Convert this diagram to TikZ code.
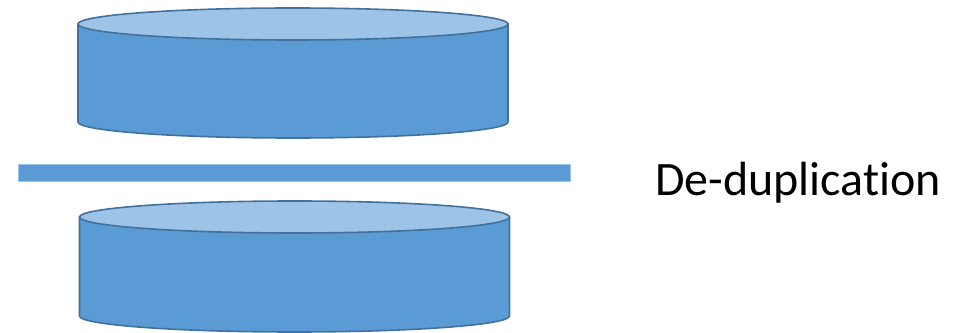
\documentclass[tikz,border=0pt]{standalone}
\usepackage{fontspec}
\setmainfont{Carlito}[RawFeature=-liga]
\usepackage{xcolor}
\usetikzlibrary{positioning}

\definecolor{diskside}{HTML}{5B9BD5}
\definecolor{disktop}{HTML}{9DC3E6}
\definecolor{diskedge}{HTML}{41719C}

% one flat disk: #1 centre x, #2 lid y, #3 floor y
\newcommand{\drawdisk}[3]{%
  \draw[diskbody] (#1-215,#2) -- (#1-215,#3)
    arc[start angle=180, end angle=360, x radius=215, y radius=16]
    -- (#1+215,#2) -- cycle;
  \draw[disklid] (#1,#2) ellipse[x radius=215, y radius=16];
}

\begin{document}
\begin{tikzpicture}[x=1pt, y=1pt,
  diskbody/.style={fill=diskside, draw=diskedge, line width=1.6pt, line join=round},
  disklid/.style={fill=disktop, draw=diskedge, line width=1.6pt},
  barbox/.style={rectangle, fill=diskside, draw=disktop, line width=0.8pt, minimum width=552pt, minimum height=17pt, inner sep=0pt},
  caption/.style={font=\fontsize{48}{58}\selectfont, inner sep=0pt}]
\useasboundingbox (0,0) rectangle (958,332);

% upper and lower disks
\drawdisk{293}{308}{210}
\drawdisk{294.5}{115}{16}

% separating bar
\node[barbox] (sep) at (294,159.5) {};

\node[caption, anchor=base west] (dedup) at (655,136) {De-duplication};
\end{tikzpicture}
\end{document}
